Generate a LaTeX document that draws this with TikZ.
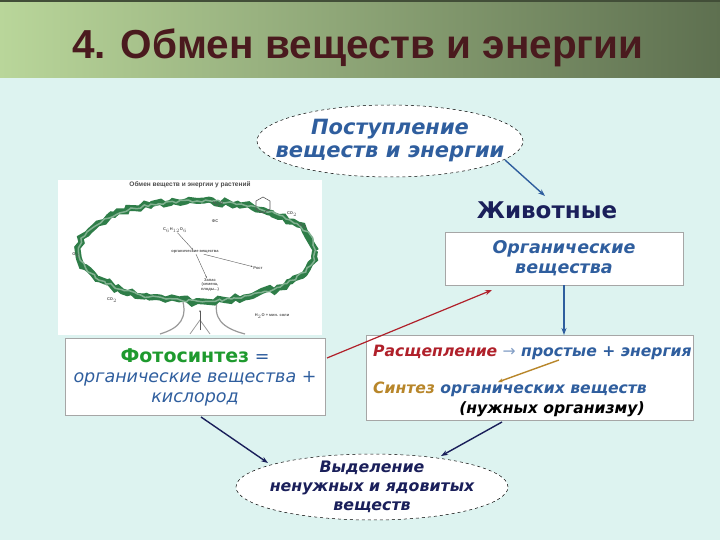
\documentclass[tikz,border=0pt]{standalone}
\usepackage{fontspec}
\setmainfont{DejaVu Sans}
\newfontfamily\lib{Liberation Sans}
\usetikzlibrary{arrows.meta,decorations.pathmorphing,shapes.geometric}
\definecolor{bg}{HTML}{DDF3F0}
\definecolor{tblue}{HTML}{2F5E9E}
\definecolor{navy}{HTML}{1A1F5A}
\definecolor{ttl}{HTML}{4A1A1E}
\definecolor{gL}{HTML}{B9D69A}
\definecolor{gD}{HTML}{5E7050}
\definecolor{leaf}{HTML}{2E7D48}
\definecolor{fgreen}{HTML}{1E9A2E}
\definecolor{fred}{HTML}{B0202A}
\definecolor{forange}{HTML}{B8862A}
\begin{document}
\begin{tikzpicture}[x=1pt,y=-1pt,
  box/.style={draw=gray!70,fill=white,line width=0.6pt},
  oval/.style={ellipse,draw=black,dashed,fill=white,line width=0.5pt,inner sep=0pt},
  arr/.style={-{Stealth[length=7pt,width=5pt]},line width=1.4pt},
  tiny/.style={font=\lib\fontsize{4}{4.5}\selectfont\bfseries,text=gray!70!black,inner sep=0.5pt}]
\useasboundingbox (0,0) rectangle (720,540);
\fill[bg] (0,0) rectangle (720,540);
\shade[left color=gL,right color=gD] (0,0) rectangle (720,78);
\fill[gD!70!black] (0,0) rectangle (720,2);
\node[font=\lib\fontsize{40.5}{42}\selectfont\bfseries,text=ttl,anchor=west,inner sep=0pt] (title) at (72,48) {4. Обмен веществ и энергии};
% top ellipse
\node[oval,minimum width=266pt,minimum height=72pt] (in) at (390,141) {};
\node[align=center,text=tblue,font=\fontsize{21}{23}\selectfont\bfseries\itshape] (intext) at (in.center) {Поступление\\веществ и энергии};
\node[font=\fontsize{23}{26}\selectfont\bfseries,text=navy] (anim) at (547,210) {Животные};
% organic box
\node[box,minimum width=238pt,minimum height=53pt,align=center,text=tblue,
  font=\fontsize{17.5}{20}\selectfont\bfseries\itshape] (org) at (564,258.5) {Органические\\вещества};
% tree picture
\fill[white] (58,180) rectangle (322,335);
\node[font=\lib\fontsize{6.5}{7}\selectfont\bfseries,text=gray!60!black] (tt) at (190,185) {Обмен веществ и энергии у растений};
\draw[gray!80,line width=1.2pt] (182,298) .. controls (188,318) and (180,328) .. (160,334);
\draw[gray!80,line width=1.2pt] (218,298) .. controls (212,318) and (222,328) .. (245,334);
\draw[gray!80,line width=0.8pt] (190,334) -- (200,320) -- (210,334);
\draw[leaf,line width=6pt,decoration={random steps,segment length=5pt,amplitude=2.5pt},decorate]
  (197,251) ellipse [x radius=118,y radius=50];
\draw[leaf!60!white,line width=1.5pt,decoration={random steps,segment length=4pt,amplitude=1.5pt},decorate]
  (197,251) ellipse [x radius=118,y radius=50];
\draw[gray!70!black,line width=0.6pt] (256,201) -- (263,197) -- (270,201) -- (270,209) -- (263,213) -- (256,209) -- cycle;
\node[tiny] (fs) at (215,221) {ФС};
\node[tiny] (co2a) at (292,214) {CO$_2$};
\node[tiny] (o2a) at (303,226) {O$_2$};
\node[tiny] (o2b) at (76,255) {O$_2$};
\node[tiny] (co2b) at (112,300) {CO$_2$};
\node[tiny] (h2o) at (218,204) {H$_2$O};
\node[tiny] (sug) at (175,230) {C$_6$H$_{12}$O$_6$};
\node[tiny] (org2) at (195,252) {органические вещества};
\node[tiny] (rost) at (258,268) {Рост};
\node[tiny,align=center] (zap) at (210,285) {Запас\\(семена,\\плоды...)};
\node[tiny] (soil) at (272,316) {H$_2$O + мин. соли};
\draw[gray!70!black,-{Stealth[length=2pt]},line width=0.4pt] (sug) -- (org2);
\draw[gray!70!black,-{Stealth[length=2pt]},line width=0.4pt] (org2) -- (rost);
\draw[gray!70!black,-{Stealth[length=2pt]},line width=0.4pt] (org2) -- (zap);
\draw[gray!70!black,-{Stealth[length=2pt]},line width=0.4pt] (200,330) -- (200,310);
% photosynthesis box
\node[box,minimum width=260pt,minimum height=77pt] (ph) at (195,376.5) {};
\node[align=center,font=\fontsize{17.5}{20}\selectfont\itshape,text=tblue] (pht) at (195,377)
  {{\color{fgreen}\fontsize{19}{20}\selectfont\bfseries\upshape Фотосинтез} =\\органические вещества +\\кислород};
% right box
\node[box,minimum width=327pt,minimum height=85pt] (rb) at (529.5,377.5) {};
\node[font=\fontsize{15.6}{17}\selectfont\bfseries\itshape,text=tblue,anchor=west,inner sep=0pt] (r1) at (373,352)
  {{\color{fred}Расщепление} {\mdseries\color{tblue!60}→} простые + энергия};
\node[font=\fontsize{15.6}{17}\selectfont\bfseries\itshape,text=tblue,anchor=west,inner sep=0pt] (r2) at (373,389)
  {{\color{forange}Синтез} органических веществ};
\node[font=\fontsize{15.6}{17}\selectfont\bfseries\itshape,text=black] (r3) at (552,409) {(нужных организму)};
% bottom ellipse
\node[oval,minimum width=272pt,minimum height=66pt] (out) at (372,487) {};
\node[align=center,text=navy,font=\fontsize{15.8}{19}\selectfont\bfseries\itshape] (outtext) at (out.center) {Выделение\\ненужных и ядовитых\\веществ};
% arrows
\coordinate (a1) at (505,160); \coordinate (a2) at (545,196);
\draw[arr,tblue] (a1) -- (a2);
\coordinate (b1) at (327,358); \coordinate (b2) at (492,290);
\draw[arr,fred,line width=1.2pt] (b1) -- (b2);
\coordinate (v1) at (564,285); \coordinate (v2) at (564,335);
\draw[arr,tblue] (v1) -- (v2);
\coordinate (c1) at (559,360); \coordinate (c2) at (498,382);
\draw[arr,forange,line width=1.4pt,-{Stealth[length=5pt,width=4pt]}] (c1) -- (c2);
\coordinate (d1) at (201,417); \coordinate (d2) at (268,463);
\draw[arr,navy] (d1) -- (d2);
\coordinate (e1) at (502,422); \coordinate (e2) at (441,456);
\draw[arr,navy] (e1) -- (e2);
\end{tikzpicture}
\end{document}
